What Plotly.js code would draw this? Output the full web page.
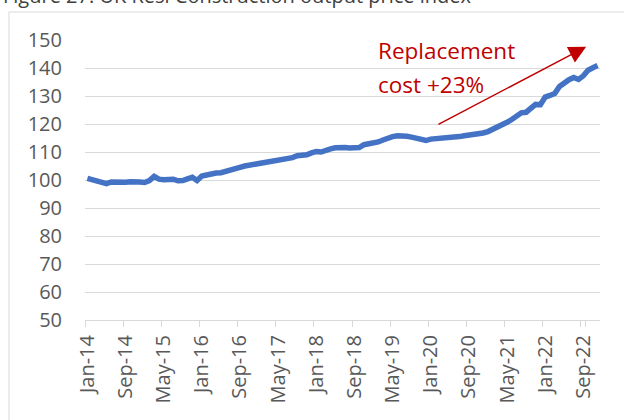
<!DOCTYPE html>
<html>
<head>
<meta charset="utf-8">
<script src="https://cdn.plot.ly/plotly-3.0.1.min.js"></script>
<style>html,body{margin:0;padding:0;background:#fff;}#chart{width:624px;height:420px;}</style>
</head>
<body>
<div id="chart"></div>
<script>
// Month names and years used to build category labels (Jan-14 .. Dec-22)
const monthNames = ['Jan','Feb','Mar','Apr','May','Jun','Jul','Aug','Sep','Oct','Nov','Dec'];
const years = ['14','15','16','17','18','19','20','21','22'];
const categories = [];
years.forEach(y => monthNames.forEach(m => categories.push(m + '-' + y)));

// UK Resi construction output price index
const priceIndex = [
  100.6,100.0,99.5,98.9,98.7,99.3,99.2,99.0,99.2,99.4,99.5,99.3,
  99.1,99.8,101.3,100.3,100.1,100.4,100.3,99.7,99.8,100.4,101.0,99.8,
  101.4,101.8,102.3,102.5,102.6,103.2,103.6,103.9,104.5,105.0,105.3,105.8,
  106.1,106.3,106.4,106.6,106.9,107.3,107.7,108.0,108.7,108.9,109.0,109.7,
  110.2,110.0,110.8,111.1,111.5,111.7,111.6,111.4,111.3,111.6,112.6,112.8,
  113.2,113.6,114.3,115.0,115.5,115.8,115.9,115.6,115.3,114.8,114.6,114.1,
  114.6,114.7,114.7,114.8,114.9,115.2,115.5,115.8,116.0,116.2,116.4,116.8,
  117.3,118.0,118.8,119.6,120.6,121.6,122.9,124.0,124.2,125.6,127.0,126.9,
  129.6,130.2,130.9,133.4,134.8,135.8,136.6,135.9,137.2,139.2,140.1,140.9
];

const tickLabels = ['Jan-14','Sep-14','May-15','Jan-16','Sep-16','May-17','Jan-18',
  'Sep-18','May-19','Jan-20','Sep-20','May-21','Jan-22','Sep-22'];

const titleText = 'Figure 27: UK Resi Construction output price index';
const noteLine1 = 'Replacement';
const noteLine2 = 'cost +23%';

const font = '"Open Sans", "Liberation Sans", sans-serif';

const trace = {
  x: categories,
  y: priceIndex,
  type: 'scatter',
  mode: 'lines',
  line: {color: '#4472C4', width: 5.5, shape: 'linear'},
  hoverinfo: 'skip'
};

const layout = {
  width: 624,
  height: 420,
  margin: {l: 85, r: 24, t: 40, b: 100, pad: 0},
  paper_bgcolor: '#ffffff',
  plot_bgcolor: '#ffffff',
  showlegend: false,
  font: {family: font, color: '#595959', size: 20},
  xaxis: {
    type: 'category',
    range: [-0.5, categories.length - 0.5],
    tickmode: 'array',
    tickvals: tickLabels,
    ticktext: tickLabels,
    tickson: 'boundaries',
    tickangle: -90,
    ticks: 'outside',
    ticklen: 6,
    tickcolor: '#D9D9D9',
    tickwidth: 1,
    ticklabelstandoff: 6,
    showgrid: false,
    showline: true,
    linecolor: '#D9D9D9',
    linewidth: 1,
    zeroline: false,
    tickfont: {family: font, size: 20, color: '#595959'},
    fixedrange: true
  },
  yaxis: {
    range: [50, 150],
    dtick: 10,
    tick0: 50,
    showgrid: true,
    gridcolor: '#D9D9D9',
    gridwidth: 1,
    zeroline: false,
    showline: false,
    ticks: '',
    ticklabelstandoff: 22,
    tickfont: {family: font, size: 20, color: '#595959'},
    fixedrange: true
  },
  shapes: [
    {type: 'rect', xref: 'paper', yref: 'paper',
     x0: -0.1476, x1: 1.2, y0: -0.5, y1: 1.1,
     line: {color: '#D9D9D9', width: 1}, fillcolor: 'rgba(0,0,0,0)', layer: 'below'}
  ],
  annotations: [
    {text: titleText, xref: 'paper', yref: 'paper', x: -0.163, y: 1.105,
     xanchor: 'left', yanchor: 'bottom', showarrow: false,
     font: {family: font, size: 20, color: '#404040'}},
    {text: noteLine1, xref: 'paper', yref: 'paper', x: 0.565, y: 0.962,
     xanchor: 'left', yanchor: 'middle', showarrow: false,
     font: {family: font, size: 22.5, color: '#C00000'}},
    {text: noteLine2, xref: 'paper', yref: 'paper', x: 0.565, y: 0.842,
     xanchor: 'left', yanchor: 'middle', showarrow: false,
     font: {family: font, size: 22.5, color: '#C00000'}},
    {text: '', xref: 'x', yref: 'y', axref: 'x', ayref: 'y',
     x: 104.6, y: 147.6, ax: 73.3, ay: 119.6,
     showarrow: true, arrowhead: 2, arrowsize: 2.3, arrowwidth: 1.5,
     arrowcolor: '#C00000', standoff: 0, startstandoff: 0}
  ]
};

Plotly.newPlot('chart', [trace], layout, {staticPlot: true, displayModeBar: false});
</script>
</body>
</html>
